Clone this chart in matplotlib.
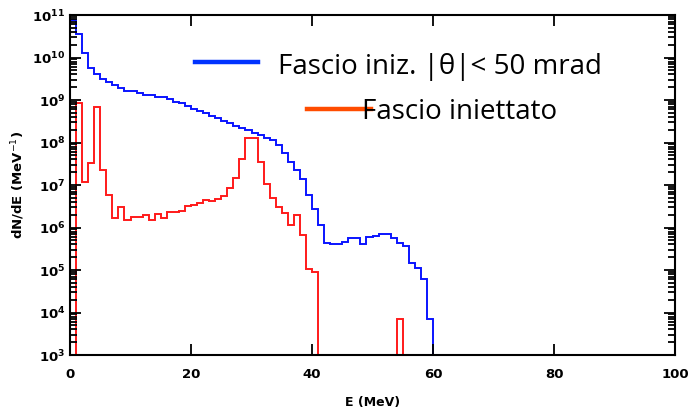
import matplotlib
matplotlib.use("Agg")
import matplotlib.pyplot as plt
from matplotlib.lines import Line2D
import numpy as np

# spettri per bin di 1 MeV (0-100 MeV)
energy_edges = list(range(0, 101))

# fascio iniziale |theta| < 50 mrad
blue_counts = [7.6e10, 3.5e10, 1.3e10, 5.6e9, 4.1e9, 3.2e9, 2.7e9, 2.3e9, 1.95e9, 1.6e9,
               1.6e9, 1.5e9, 1.3e9, 1.3e9, 1.15e9, 1.15e9, 1.05e9, 9.1e8, 8.3e8, 7.4e8,
               6.3e8, 5.5e8, 4.9e8, 4.2e8, 3.7e8, 3.2e8, 2.8e8, 2.5e8, 2.2e8, 2.0e8,
               1.7e8, 1.5e8, 1.26e8, 1.15e8, 8.7e7, 5.6e7, 3.5e7, 2.2e7, 1.4e7, 5.8e6,
               2.7e6, 1.15e6, 4.4e5, 4.2e5, 4.0e5, 4.5e5, 5.8e5, 5.8e5, 4.0e5, 5.9e5,
               6.3e5, 6.9e5, 6.9e5, 5.6e5, 4.3e5, 3.7e5, 1.45e5, 1.1e5, 6.2e4, 7.2e3] + [0] * 40

# fascio iniettato
red_counts = [0, 8.3e8, 1.15e7, 3.3e7, 6.9e8, 2.2e7, 5.8e6, 1.66e6, 3.1e6, 1.5e6,
              1.8e6, 1.8e6, 1.95e6, 1.5e6, 2.1e6, 1.66e6, 2.3e6, 2.3e6, 2.4e6, 3.2e6,
              3.3e6, 3.7e6, 4.5e6, 4.3e6, 4.7e6, 5.5e6, 8.3e6, 1.45e7, 4.0e7, 1.26e8,
              1.26e8, 3.5e7, 1.05e7, 4.9e6, 3.0e6, 2.2e6, 1.15e6, 1.95e6, 6.6e5, 1.05e5,
              9.1e4] + [0] * 13 + [7.2e3] + [0] * 45

legend_labels = ["Fascio iniz. |\u03b8|< 50 mrad", "Fascio iniettato"]

W, H = 691, 411
fig = plt.figure(figsize=(W / 100, H / 100), dpi=100)
ax = fig.add_axes([70 / W, 1 - 355 / H, 605 / W, 340 / H])

def nz(v):
    v = np.array(v, dtype=float)
    return np.where(v > 0, v, 1e-3)

ax.stairs(nz(blue_counts), energy_edges, color="#0a14ff", lw=1.4, baseline=None)
ax.stairs(nz(red_counts), energy_edges, color="#ff1a1a", lw=1.4, baseline=None)

ax.set_yscale("log")
ax.set_xlim(0, 100)
ax.set_ylim(1e3, 1e11)
ax.set_xticks([0, 20, 40, 60, 80, 100])
ax.set_yticks([10.0 ** k for k in range(3, 12)])
ax.set_yticklabels([r"$\mathregular{10^{%d}}$" % k for k in range(3, 12)])

ax.tick_params(which="both", direction="in", top=True, right=True, width=1.3)
ax.tick_params(which="major", length=8, labelsize=9.5)
ax.tick_params(which="minor", length=5)
ax.tick_params(axis="x", which="minor", bottom=False, top=False)
ax.tick_params(axis="x", pad=9)
for lab in ax.get_xticklabels() + ax.get_yticklabels():
    lab.set_fontweight("bold")
for s in ax.spines.values():
    s.set_linewidth(1.5)

ax.set_ylabel("dN/dE (MeV$^{-1}$)", fontsize=9.5, fontweight="bold", labelpad=4)
ax.set_xlabel("E (MeV)", fontsize=9, fontweight="bold", labelpad=11)

# legenda disegnata a mano
fig.add_artist(Line2D([195 / W, 258 / W], [1 - 62 / H, 1 - 62 / H],
                      color="#0033ff", lw=3.2))
fig.text(278 / W, 1 - 67 / H, legend_labels[0], fontsize=20, family="Open Sans",
         va="center", ha="left")
fig.text(362 / W, 1 - 112 / H, legend_labels[1], fontsize=20, family="Open Sans",
         va="center", ha="left")
fig.add_artist(Line2D([307 / W, 371 / W], [1 - 109 / H, 1 - 109 / H],
                      color="#ff4c00", lw=3.2))

fig.savefig("out.png", dpi=100)
